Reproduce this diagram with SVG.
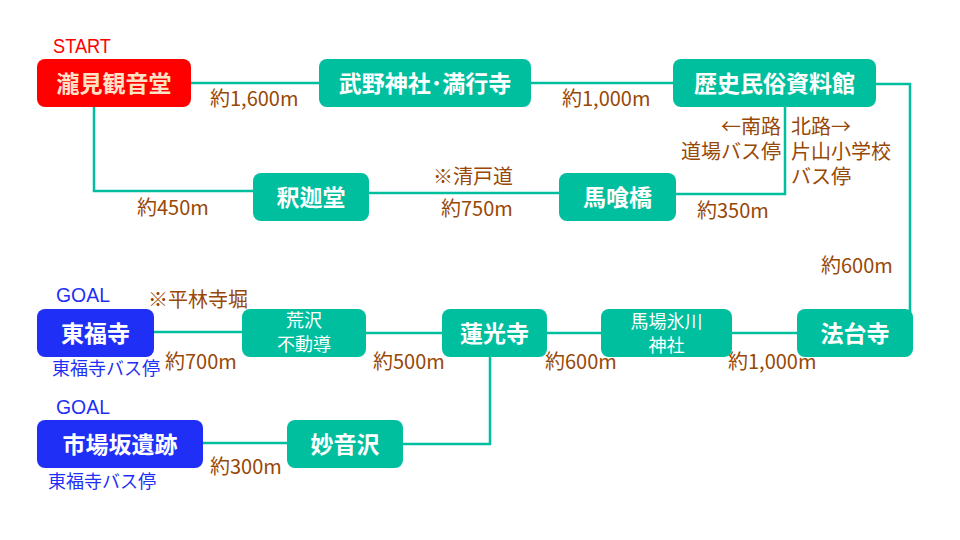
<svg xmlns="http://www.w3.org/2000/svg" width="960" height="540" viewBox="0 0 960 540">
<style>
.bg{fill:#ffffff}
.node{fill:#00BF9F}
.red{fill:#FF0000}
.blue{fill:#1F2FF5}
.nt{font-family:"Noto Sans CJK JP","Noto Sans",sans-serif;font-size:23px;font-weight:bold;fill:#ffffff;text-anchor:middle}
.nt2{font-family:"Noto Sans CJK JP","Noto Sans",sans-serif;font-size:18px;font-weight:normal;fill:#ffffff;text-anchor:middle}
.ntr{font-family:"Noto Sans CJK JP","Noto Sans",sans-serif;font-size:23px;font-weight:bold;fill:#FFE2C6;text-anchor:middle}
.lb{font-family:"Noto Sans CJK JP","Noto Sans",sans-serif;font-size:20px;fill:#984806}
.bl{font-family:"Noto Sans CJK JP","Noto Sans",sans-serif;font-size:18px;fill:#1F2FF5}
.tag{font-family:"Liberation Sans",Arial,sans-serif;font-size:20px}
.conn{fill:none;stroke:#00BF9F;stroke-width:2.5}
</style>
<rect class="bg" x="0" y="0" width="960" height="540"/>
<g id="connectors">
<polyline class="conn" points="191,83 319,83"/>
<polyline class="conn" points="531,83 673,83"/>
<polyline class="conn" points="876,84 910,84 910,312"/>
<polyline class="conn" points="785,107 785,194 676,194"/>
<polyline class="conn" points="559,193 369,193"/>
<polyline class="conn" points="253,191 94,191 94,107"/>
<polyline class="conn" points="797,333 731,333"/>
<polyline class="conn" points="601,333 547,333"/>
<polyline class="conn" points="442,333 366,333"/>
<polyline class="conn" points="242,332 154,332"/>
<polyline class="conn" points="490,357 490,444 402,444"/>
<polyline class="conn" points="287,443 202,443"/>
</g>
<g id="n-takimi">
<rect class="red" x="37" y="59" width="154" height="48" rx="8"/>
<text class="ntr" x="114" y="91.5">瀧見観音堂</text>
</g>
<g id="n-takeno">
<rect class="node" x="319" y="59" width="212" height="48" rx="8"/>
<text class="nt" x="425" y="91.5">武野神社･満行寺</text>
</g>
<g id="n-rekishi">
<rect class="node" x="673" y="59" width="203" height="48" rx="8"/>
<text class="nt" x="774.5" y="91.5">歴史民俗資料館</text>
</g>
<g id="n-shaka">
<rect class="node" x="253" y="173" width="116" height="48" rx="8"/>
<text class="nt" x="311" y="205.5">釈迦堂</text>
</g>
<g id="n-bakuro">
<rect class="node" x="559" y="173" width="117" height="48" rx="8"/>
<text class="nt" x="617.5" y="205.5">馬喰橋</text>
</g>
<g id="n-tofukuji">
<rect class="blue" x="37" y="309" width="117" height="48" rx="8"/>
<text class="nt" x="95.5" y="341.5">東福寺</text>
</g>
<g id="n-arasawa">
<rect class="node" x="242" y="309" width="124" height="48" rx="8"/>
<text class="nt2" x="304" y="327"><tspan x="304" y="327">荒沢</tspan><tspan x="304" y="351">不動導</tspan></text>
</g>
<g id="n-renkoji">
<rect class="node" x="442" y="309" width="105" height="48" rx="8"/>
<text class="nt" x="494.5" y="341.5">蓮光寺</text>
</g>
<g id="n-babahikawa">
<rect class="node" x="601" y="309" width="131" height="48" rx="8"/>
<text class="nt2" x="666.5" y="328"><tspan x="666.5" y="328">馬場氷川</tspan><tspan x="666.5" y="352">神社</tspan></text>
</g>
<g id="n-hodaiji">
<rect class="node" x="797" y="309" width="116" height="48" rx="8"/>
<text class="nt" x="855" y="341.5">法台寺</text>
</g>
<g id="n-ichiba">
<rect class="blue" x="37" y="420" width="166" height="48" rx="8"/>
<text class="nt" x="120" y="452.5">市場坂遺跡</text>
</g>
<g id="n-myoon">
<rect class="node" x="287" y="420" width="116" height="48" rx="8"/>
<text class="nt" x="345" y="452.5">妙音沢</text>
</g>
<g id="labels">
<text class="tag" x="53" y="53" fill="#FF0000" textLength="58" lengthAdjust="spacingAndGlyphs">START</text>
<text class="tag" x="56" y="302" fill="#1F2FF5" textLength="54" lengthAdjust="spacingAndGlyphs">GOAL</text>
<text class="tag" x="56" y="414" fill="#1F2FF5" textLength="54" lengthAdjust="spacingAndGlyphs">GOAL</text>
<text class="lb" x="210" y="106">約1,600m</text>
<text class="lb" x="562" y="106">約1,000m</text>
<text class="lb" x="781" y="134" text-anchor="end"><tspan x="781" y="134">←南路</tspan><tspan x="781" y="159">道場バス停</tspan></text>
<text class="lb" x="791" y="134"><tspan x="791" y="134">北路→</tspan><tspan x="791" y="159">片山小学校</tspan><tspan x="791" y="184">バス停</tspan></text>
<text class="lb" x="137" y="215">約450m</text>
<text class="lb" x="433" y="184">※清戸道</text>
<text class="lb" x="441" y="216">約750m</text>
<text class="lb" x="697" y="218">約350m</text>
<text class="lb" x="821" y="273">約600m</text>
<text class="lb" x="148" y="307">※平林寺堀</text>
<text class="lb" x="165" y="369">約700m</text>
<text class="lb" x="373" y="369">約500m</text>
<text class="lb" x="545" y="369">約600m</text>
<text class="lb" x="728" y="369">約1,000m</text>
<text class="lb" x="210" y="474">約300m</text>
<text class="bl" x="52" y="375">東福寺バス停</text>
<text class="bl" x="48" y="488">東福寺バス停</text>
</g>
</svg>
